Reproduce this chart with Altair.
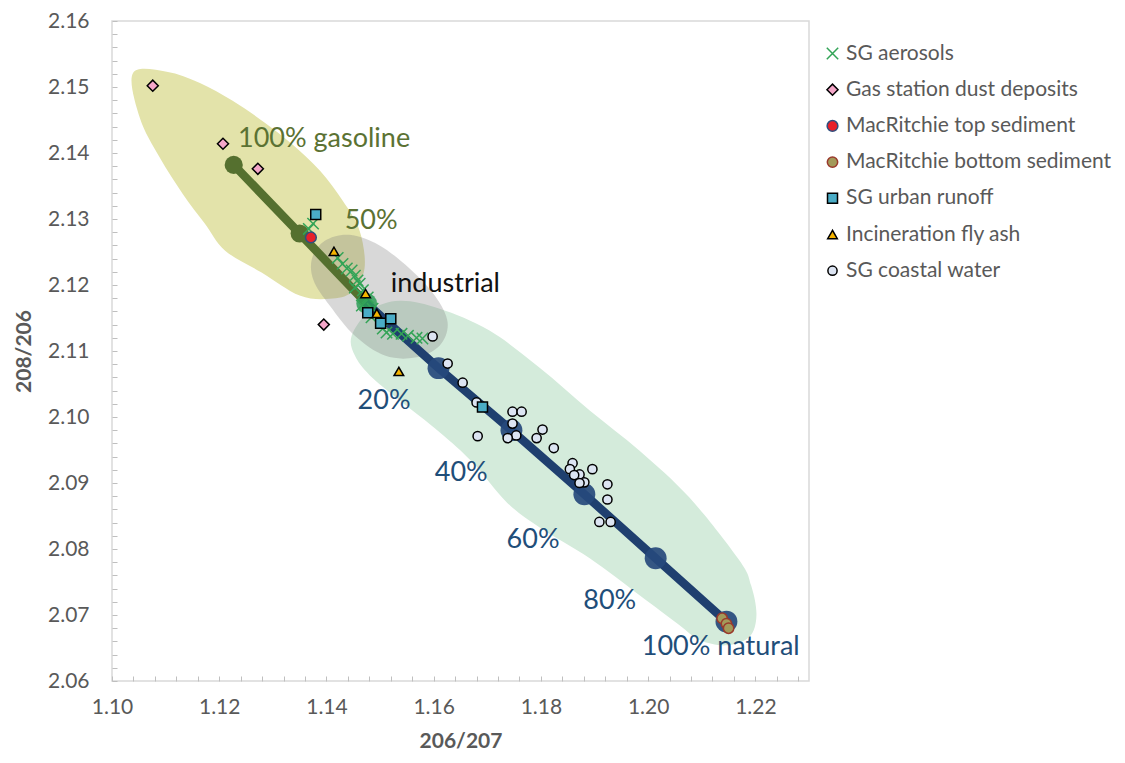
import altair as alt
import pandas as pd

# ---------------- data ----------------
# background regions (outline vertices, data units)
gas_blob_x = [1.1039, 1.1102, 1.1164, 1.1225, 1.1285, 1.1335, 1.1388, 1.1430, 1.1462, 1.1471,
              1.1447, 1.1406, 1.1350, 1.1279, 1.1211, 1.1173, 1.1132, 1.1089, 1.1052]
gas_blob_y = [2.1521, 2.1523, 2.1506, 2.1479, 2.1446, 2.1414, 2.1373, 2.1328, 2.1282, 2.1225,
              2.1189, 2.1179, 2.1184, 2.1219, 2.1252, 2.1293, 2.1338, 2.1393, 2.1453]

ind_blob_x = [1.1373, 1.1397, 1.1443, 1.1499, 1.1555, 1.1602, 1.1626, 1.1611, 1.1565, 1.1509,
              1.1453, 1.1406, 1.1376]
ind_blob_y = [2.1240, 2.1267, 2.1276, 2.1260, 2.1225, 2.1184, 2.1143, 2.1108, 2.1090, 2.1093,
              2.1123, 2.1169, 2.1207]

nat_blob_x = [1.1447, 1.1481, 1.1537, 1.1611, 1.1704, 1.1797, 1.1891, 1.1984, 1.2077, 1.2170,
              1.2192, 1.2202, 1.2189, 1.2146, 1.2096, 1.2058, 1.1984, 1.1891, 1.1797, 1.1736,
              1.1673, 1.1611, 1.1537, 1.1481, 1.1453]
nat_blob_y = [2.1123, 2.1161, 2.1176, 2.1164, 2.1131, 2.1075, 2.1010, 2.0949, 2.0878, 2.0783,
              2.0745, 2.0700, 2.0667, 2.0654, 2.0662, 2.0685, 2.0730, 2.0786, 2.0833, 2.0871,
              2.0931, 2.0977, 2.1025, 2.1063, 2.1093]

# mixing lines / end members
em_names = ["gasoline", "50%", "industrial", "20%", "40%", "60%", "80%", "natural"]
em_x = [1.1227, 1.1350, 1.1475, 1.1609, 1.1745, 1.1881, 1.2014, 1.2146]
em_y = [2.1382, 2.1278, 2.1172, 2.1074, 2.0980, 2.0883, 2.0786, 2.0690]
em_group = ["olive", "olive", "industrial", "navy", "navy", "navy", "navy", "navy"]
gas_line_members = ["gasoline", "50%", "industrial"]
nat_line_members = ["industrial", "20%", "40%", "60%", "80%", "natural"]

# samples
aerosol_x = [1.1375, 1.1367, 1.1421, 1.1430, 1.1438, 1.1447, 1.1453, 1.1458, 1.1462, 1.1453, 1.1468,
             1.1477, 1.1466, 1.1486, 1.1484, 1.1505, 1.1512, 1.1524, 1.1540, 1.1552, 1.1568, 1.1579]
aerosol_y = [2.1293, 2.1285, 2.1241, 2.1232, 2.1225, 2.1222, 2.1214, 2.1207, 2.1202, 2.1196, 2.1192,
             2.1181, 2.1169, 2.1164, 2.1151, 2.1134, 2.1128, 2.1126, 2.1126, 2.1123, 2.1120, 2.1119]
gasdust_x = [1.1076, 1.1207, 1.1272, 1.1395]
gasdust_y = [2.1502, 2.1414, 2.1376, 2.1140]
mactop_x = [1.1371]
mactop_y = [2.1272]
macbot_x = [1.2138, 1.2146, 1.2150]
macbot_y = [2.0695, 2.0687, 2.0680]
runoff_x = [1.1380, 1.1477, 1.1501, 1.1520, 1.1691]
runoff_y = [2.1307, 2.1158, 2.1142, 2.1149, 2.1015]
flyash_x = [1.1414, 1.1473, 1.1494, 1.1535]
flyash_y = [2.1251, 2.1187, 2.1157, 2.1069]
coastal_x = [1.1598, 1.1626, 1.1654, 1.1680, 1.1682, 1.1747, 1.1764, 1.1747, 1.1754, 1.1738, 1.1803,
             1.1792, 1.1824, 1.1859, 1.1854, 1.1896, 1.1872, 1.1862, 1.1881, 1.1872, 1.1924, 1.1924,
             1.1909, 1.1930]
coastal_y = [2.1122, 2.1081, 2.1052, 2.1022, 2.0971, 2.1008, 2.1008, 2.0990, 2.0972, 2.0968, 2.0981,
             2.0968, 2.0953, 2.0930, 2.0921, 2.0921, 2.0913, 2.0912, 2.0901, 2.0900, 2.0898, 2.0875,
             2.0841, 2.0841]

series_names = ["SG aerosols", "Gas station dust deposits", "MacRitchie top sediment",
                "MacRitchie bottom sediment", "SG urban runoff", "Incineration fly ash",
                "SG coastal water"]

# annotations
ann_text = ["100% gasoline", "50%", "industrial", "20%", "40%", "60%", "80%", "100% natural"]
ann_x = [1.1235, 1.1434, 1.1520, 1.1458, 1.1602, 1.1736, 1.1879, 1.1988]
ann_y = [2.1421, 2.1297, 2.1202, 2.1024, 2.0915, 2.0813, 2.0721, 2.0651]
ann_group = ["olive", "olive", "black", "navy", "navy", "navy", "navy", "navy"]

x_minor = [round(1.10 + 0.004 * i, 3) for i in range(33)]
y_minor = [round(2.06 + 0.002 * i, 3) for i in range(51)]

# ---------------- styling ----------------
FONT = "Lato"
GRAY = "#595959"
OLIVE = "#55702F"
NAVY = "#1F3F6F"
GREEN = "#33A457"

xs = alt.Scale(domain=[1.10, 1.23], nice=False, zero=False)
ys = alt.Scale(domain=[2.06, 2.16], nice=False, zero=False)

x_axis = alt.Axis(values=x_minor, title="206/207", offset=-5, domain=False, tickSize=5,
                  tickColor="#BFBFBF", tickWidth=1, grid=False, labelPadding=15, titlePadding=13,
                  labelExpr="abs(datum.value*50 - round(datum.value*50)) < 0.01 ? format(datum.value, '.2f') : ''",
                  labelFont=FONT, labelFontSize=21, labelColor=GRAY, labelOverlap=False, labelFlush=False,
                  titleFont=FONT, titleFontSize=21, titleFontWeight="bold", titleColor=GRAY)
y_axis = alt.Axis(values=y_minor, title="208/206", offset=-5, domain=False, tickSize=5,
                  tickColor="#BFBFBF", tickWidth=1, grid=False, labelPadding=23, titlePadding=13,
                  labelExpr="abs(datum.value*100 - round(datum.value*100)) < 0.01 ? format(datum.value, '.2f') : ''",
                  labelFont=FONT, labelFontSize=21, labelColor=GRAY, labelOverlap=False, labelFlush=False,
                  titleFont=FONT, titleFontSize=21, titleFontWeight="bold", titleColor=GRAY)

X = alt.X("x:Q", scale=xs, axis=x_axis)
Y = alt.Y("y:Q", scale=ys, axis=y_axis)


def blob_layer(xv, yv, fill, opacity):
    df = pd.DataFrame({"x": xv, "y": yv, "i": list(range(len(xv)))})
    return alt.Chart(df).mark_line(
        interpolate="cardinal-closed", fill=fill, fillOpacity=opacity, strokeWidth=0, strokeOpacity=0
    ).encode(x=X, y=Y, order=alt.Order("i:Q"))


gas_blob = blob_layer(gas_blob_x, gas_blob_y, "#E3E3AA", 1.0)
nat_blob = blob_layer(nat_blob_x, nat_blob_y, "#D4EBDB", 1.0)
ind_blob = blob_layer(ind_blob_x, ind_blob_y, "#7F7F7F", 0.3)

em_df = pd.DataFrame({"name": em_names, "x": em_x, "y": em_y, "g": em_group,
                      "i": list(range(len(em_names)))})
olive_line = alt.Chart(em_df[em_df["name"].isin(gas_line_members)]).mark_line(
    color=OLIVE, strokeWidth=8.5, strokeCap="round"
).encode(x=X, y=Y, order="i:Q")
navy_line = alt.Chart(em_df[em_df["name"].isin(nat_line_members)]).mark_line(
    color=NAVY, strokeWidth=8.5, strokeCap="round"
).encode(x=X, y=Y, order="i:Q")

em_olive = alt.Chart(em_df[em_df["g"] == "olive"]).mark_circle(
    color=OLIVE, opacity=1, size=330).encode(x=X, y=Y)
em_ind = alt.Chart(em_df[em_df["g"] == "industrial"]).mark_circle(
    color="#2E9E58", opacity=0.85, size=430).encode(x=X, y=Y)
em_navy = alt.Chart(em_df[em_df["g"] == "navy"]).mark_circle(
    color="#26497C", opacity=0.92, size=480).encode(x=X, y=Y)

# samples table
rows = []
order_draw = [
    ("SG aerosols", aerosol_x, aerosol_y),
    ("Gas station dust deposits", gasdust_x, gasdust_y),
    ("SG coastal water", coastal_x, coastal_y),
    ("SG urban runoff", runoff_x, runoff_y),
    ("Incineration fly ash", flyash_x, flyash_y),
    ("MacRitchie bottom sediment", macbot_x, macbot_y),
    ("MacRitchie top sediment", mactop_x, mactop_y),
]
for name, xv, yv in order_draw:
    for a, b in zip(xv, yv):
        rows.append({"series": name, "x": a, "y": b})
samples = pd.DataFrame(rows)

XPATH = "M-1,-1L1,1M-1,1L1,-1"
shapes = [XPATH, "diamond", "circle", "circle", "square", "triangle-up", "circle"]
fills = ["transparent", "#F4A6C8", "#E8202A", "#A39A5A", "#4AACC6", "#F5B400", "#DCE4F2"]
strokes = [GREEN, "#000000", "#2F4F7F", "#9A3A2C", "#000000", "#000000", "#000000"]
sizes = [130, 85, 200, 100, 140, 120, 130]

legend = alt.Legend(orient="none", legendX=710, legendY=22, title=None, labelFont=FONT,
                    labelFontSize=21, labelColor=GRAY, symbolSize=80, rowPadding=14.2,
                    labelOffset=3, padding=0, symbolStrokeWidth=1.5, labelLimit=400)

sample_points = alt.Chart(samples).mark_point(filled=True, opacity=1, strokeWidth=1.5).encode(
    x=X, y=Y,
    shape=alt.Shape("series:N", scale=alt.Scale(domain=series_names, range=shapes), legend=legend),
    color=alt.Color("series:N", scale=alt.Scale(domain=series_names, range=fills), legend=legend),
    stroke=alt.Stroke("series:N", scale=alt.Scale(domain=series_names, range=strokes), legend=legend),
    size=alt.Size("series:N", scale=alt.Scale(domain=series_names, range=sizes), legend=None),
)

ann_df = pd.DataFrame({"t": ann_text, "x": ann_x, "y": ann_y, "g": ann_group})
ann_colors = {"olive": "#5B7233", "black": "#111111", "navy": "#1F4E79"}
ann_layers = [
    alt.Chart(ann_df[ann_df["g"] == g]).mark_text(
        align="left", baseline="middle", font=FONT, fontSize=27, color=c
    ).encode(x=X, y=Y, text="t:N")
    for g, c in ann_colors.items()
]

chart = alt.layer(
    gas_blob, nat_blob, ind_blob, olive_line, navy_line, em_olive, em_ind, em_navy,
    sample_points, *ann_layers
).properties(
    width=697, height=660,
    padding={"left": 104, "top": 13, "right": 305, "bottom": 74},
    autosize=alt.AutoSizeParams(type="none"),
).configure_view(stroke="#D9D9D9", strokeWidth=1.5)

chart.save("out.html", embed_options={"renderer": "svg", "actions": False})
